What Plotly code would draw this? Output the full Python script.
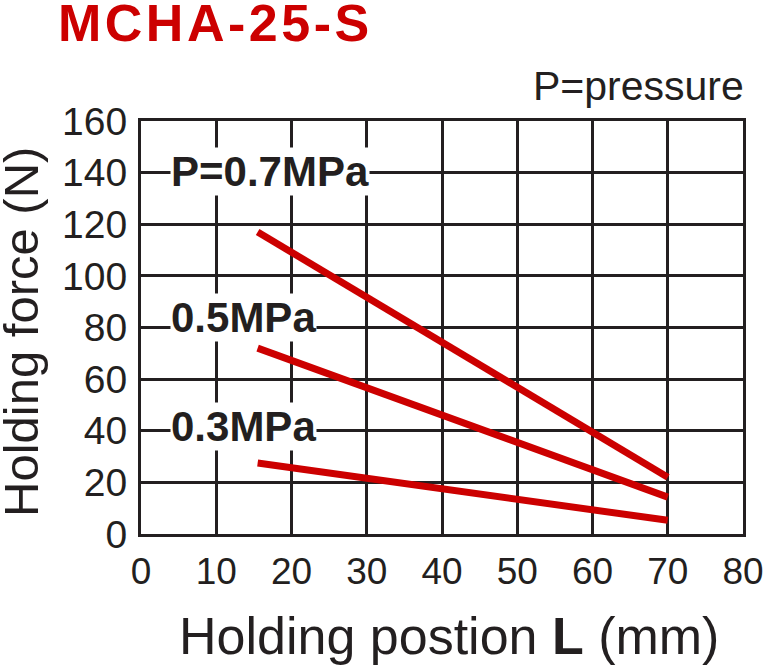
import plotly.graph_objects as go

# holding position L (mm) and holding force (N) per pressure
position = [15.5, 70]
force_07 = [117, 22]
force_05 = [72, 14.3]
force_03 = [27.5, 5.3]

labels = ["P=0.7MPa", "0.5MPa", "0.3MPa"]
label_x = [17.2, 13.6, 13.6]
label_y = [140.4, 83.8, 41.5]

x_ticks = list(range(0, 81, 10))
y_ticks = list(range(0, 161, 20))

ink = "#231f20"
red = "#cc0000"
font = "Liberation Sans, Arial, sans-serif"

W, H = 765, 667
L, R, T, B = 141, 22, 121, 133


def px(x, y):
    # window pixels -> paper coords
    return (x - L) / (W - L - R), 1 - (y - T) / (H - T - B)


fig = go.Figure()
for f in [force_07, force_05, force_03]:
    fig.add_trace(go.Scatter(x=position, y=f, mode="lines",
                             line=dict(color=red, width=7),
                             showlegend=False, hoverinfo="skip"))

for t, lx, ly in zip(labels, label_x, label_y):
    fig.add_annotation(x=lx, y=ly, text="<b>" + t + "</b>", showarrow=False,
                       xanchor="center", yanchor="middle",
                       font=dict(family=font, size=42, color=ink),
                       bgcolor="white", borderpad=0)

# title and notes
notes = [
    (56, 23, "<b><span style='letter-spacing:3.5px'>MCHA-25-S</span></b>", 52, red, "left", 0),
    (746, 86, "P=pressure", 41, ink, "right", 0),
    (449, 636, "Holding postion <b>L</b> (mm)", 52, ink, "center", 0),
    (21, 332, "Holding force (N)", 49, ink, "center", -90),
]
for x, y, t, s, c, anchor, ang in notes:
    ax, ay = px(x, y)
    fig.add_annotation(x=ax, y=ay, xref="paper", yref="paper", text=t,
                       showarrow=False, xanchor=anchor, yanchor="middle",
                       textangle=ang, font=dict(family=font, size=s, color=c))

fig.update_xaxes(range=[0, 80], tickvals=x_ticks, showgrid=True, gridcolor=ink, gridwidth=2.5,
                 showline=True, linecolor=ink, linewidth=3, mirror=True, zeroline=False,
                 ticks="", ticklabelstandoff=3, automargin=False,
                 tickfont=dict(family=font, size=37, color=ink))
fig.update_yaxes(range=[0, 160], tickvals=y_ticks, showgrid=True, gridcolor=ink, gridwidth=2.5,
                 showline=True, linecolor=ink, linewidth=3, mirror=True, zeroline=False,
                 ticks="", ticklabelstandoff=3, automargin=False,
                 tickfont=dict(family=font, size=39, color=ink))

fig.update_layout(width=W, height=H, margin=dict(l=L, r=R, t=T, b=B),
                  plot_bgcolor="white", paper_bgcolor="white")

# drop the default body margin so the figure fills the window
fig.write_html("out.html", config={"displayModeBar": False},
               post_script="document.body.style.margin='0px';")
